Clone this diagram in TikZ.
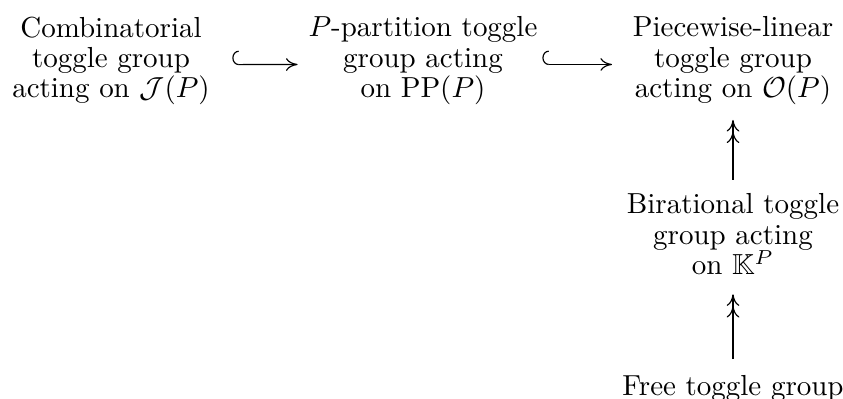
\documentclass[tikz,border=0pt]{standalone}
\usepackage{amssymb}
\usetikzlibrary{arrows.meta}

\begin{document}
\begin{tikzpicture}[
  x={(0.345pt,0)}, y={(0,-0.345pt)},
  every node/.style={align=center, inner sep=0pt, anchor=north, font=\fontsize{10}{10.5}\selectfont},
  cdtip/.tip={To[length=4pt, width=4.4pt]},
  incl/.style={{Hooks[right, length=2.2pt, width=9.6pt]}-{cdtip}},
  surj/.style={-{cdtip[]cdtip[]}},
]
  \useasboundingbox (0,0) rectangle (843,398);

  % Gruppen
  \node (comb) at (111,16) {Combinatorial\\toggle group\\acting on $\mathcal{J}(P)$};
  \node (ppart) at (423,16) {$P$-partition toggle\\group acting\\on $\mathrm{PP}(P)$};
  \node (pl) at (733,16) {Piecewise-linear\\toggle group\\acting on $\mathcal{O}(P)$};
  \node (birat) at (733,193) {Birational toggle\\group acting\\on $\mathbb{K}^P$};
  \node (free) at (733,375) {Free toggle group};

  % Pfeile
  \draw[incl, shorten <=7.6pt, shorten >=3.6pt] ([yshift=-1.3pt]comb.east) -- ([yshift=-1.3pt]ppart.west);
  \draw[incl, shorten <=1.5pt, shorten >=7pt] ([yshift=-1.3pt]ppart.east) -- ([yshift=-1.3pt]pl.west);
  \draw[surj, shorten <=4.5pt, shorten >=5pt] (birat) -- (pl);
  \draw[surj, shorten <=5.5pt, shorten >=6.5pt] (free) -- (birat);
\end{tikzpicture}
\end{document}
